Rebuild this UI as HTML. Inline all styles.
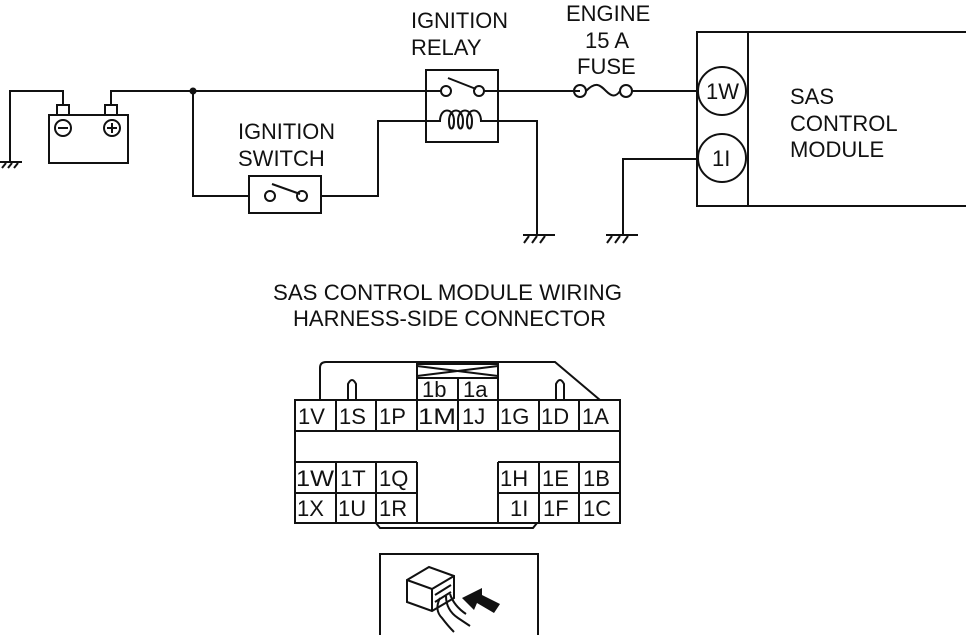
<!DOCTYPE html>
<html><head><meta charset="utf-8"><style>
html,body{margin:0;padding:0;background:#fff;}
svg{display:block;}
text{font-family:"Liberation Sans",Arial,sans-serif;font-size:22px;fill:#111;}
</style></head><body>
<svg width="966" height="635" viewBox="0 0 966 635" xmlns="http://www.w3.org/2000/svg">
<g stroke="#111" stroke-width="2" fill="none">
<!-- battery -->
<rect x="49" y="115" width="79" height="48" fill="#fff"/>
<rect x="57" y="105" width="12" height="10"/>
<rect x="105" y="105" width="12" height="10"/>
<circle cx="63" cy="128" r="8"/><line x1="58" y1="128" x2="68" y2="128"/>
<circle cx="112" cy="128" r="8"/><line x1="107" y1="128" x2="117" y2="128"/><line x1="112" y1="123" x2="112" y2="133"/>
<polyline points="63,105 63,91 10,91 10,162"/>
<line x1="0" y1="162" x2="22" y2="162"/>
<line x1="2" y1="168" x2="6" y2="163"/><line x1="8" y1="168" x2="12" y2="163"/><line x1="14" y1="168" x2="18" y2="163"/>
<polyline points="111,105 111,91 426,91"/>
<!-- ignition switch branch -->
<polyline points="193,91 193,196 249,196"/>
<rect x="249" y="176" width="72" height="37"/>
<circle cx="270" cy="196" r="5"/><circle cx="302" cy="196" r="5"/>
<line x1="272" y1="184" x2="300" y2="194"/>
<polyline points="321,196 378,196 378,121 426,121"/>
<!-- relay -->
<rect x="426" y="70" width="72" height="72"/>
<line x1="426" y1="91" x2="441" y2="91"/>
<circle cx="446" cy="91" r="5"/><circle cx="479" cy="91" r="5"/>
<line x1="448" y1="78" x2="476" y2="89"/>
<line x1="484" y1="91" x2="580" y2="91"/>
<path d="M426,121 h14 c0,-14 14,-14 14,0 c0,10 -5,10 -5,0 c0,-14 14,-14 14,0 c0,10 -5,10 -5,0 c0,-14 14,-14 14,0 c0,10 -5,10 -5,0 c0,-14 14,-14 14,0 H537 V235"/>
<line x1="523" y1="235" x2="555" y2="235"/>
<line x1="524" y1="243" x2="529" y2="236"/><line x1="532" y1="243" x2="537" y2="236"/><line x1="540" y1="243" x2="545" y2="236"/>
<!-- fuse -->
<circle cx="580" cy="91" r="6"/><circle cx="626" cy="91" r="6"/>
<path d="M586,91 c10,-10 14,-6 20,0 c6,6 10,6 14,0"/>
<line x1="632" y1="91" x2="697" y2="91"/>
<!-- module -->
<rect x="697" y="32" width="280" height="174"/>
<line x1="748" y1="32" x2="748" y2="206"/>
<circle cx="722" cy="91" r="24" fill="#fff"/>
<circle cx="722" cy="158" r="24" fill="#fff"/>
<polyline points="698,159 623,159 623,235"/>
<line x1="606" y1="235" x2="638" y2="235"/>
<line x1="607" y1="243" x2="612" y2="236"/><line x1="615" y1="243" x2="620" y2="236"/><line x1="623" y1="243" x2="628" y2="236"/>
</g>
<circle cx="193" cy="91" r="3.5" fill="#111"/>
<text x="411" y="28" textLength="97" lengthAdjust="spacingAndGlyphs">IGNITION</text>
<text x="411" y="55">RELAY</text>
<text x="566" y="21">ENGINE</text>
<text x="585" y="48">15 A</text>
<text x="577" y="74">FUSE</text>
<text x="238" y="139" textLength="97" lengthAdjust="spacingAndGlyphs">IGNITION</text>
<text x="238" y="166">SWITCH</text>
<text x="790" y="104">SAS</text>
<text x="790" y="131">CONTROL</text>
<text x="790" y="157">MODULE</text>
<text x="706" y="99" font-size="21">1W</text>
<text x="712" y="166" font-size="21">1I</text>
<text x="273" y="300" textLength="349" lengthAdjust="spacingAndGlyphs">SAS CONTROL MODULE WIRING</text>
<text x="293" y="326" textLength="313" lengthAdjust="spacingAndGlyphs">HARNESS-SIDE CONNECTOR</text>
<!-- connector -->
<g stroke="#111" stroke-width="2" fill="none">
<path d="M320,400 V368 q0,-6 6,-6 H555 L600,400"/>
<path d="M348,400 V384 q4,-8 8,0 V400"/>
<path d="M556,400 V384 q4,-8 8,0 V400"/>
<rect x="417" y="364" width="81" height="36" fill="#fff"/>
<line x1="417" y1="378" x2="498" y2="378"/>
<line x1="417" y1="366" x2="498" y2="376"/><line x1="417" y1="376" x2="498" y2="366"/>
<line x1="458" y1="378" x2="458" y2="400"/>
<rect x="295" y="400" width="325" height="123"/>
<line x1="295" y1="431" x2="620" y2="431"/>
<line x1="295" y1="462" x2="417" y2="462"/><line x1="498" y1="462" x2="620" y2="462"/>
<line x1="295" y1="493" x2="417" y2="493"/><line x1="498" y1="493" x2="620" y2="493"/>
<line x1="417" y1="462" x2="417" y2="523"/><line x1="498" y1="462" x2="498" y2="523"/>
<line x1="336" y1="400" x2="336" y2="431"/><line x1="376" y1="400" x2="376" y2="431"/><line x1="417" y1="400" x2="417" y2="431"/><line x1="458" y1="400" x2="458" y2="431"/><line x1="498" y1="400" x2="498" y2="431"/><line x1="539" y1="400" x2="539" y2="431"/><line x1="579" y1="400" x2="579" y2="431"/>
<line x1="336" y1="462" x2="336" y2="523"/><line x1="376" y1="462" x2="376" y2="523"/><line x1="539" y1="462" x2="539" y2="523"/><line x1="579" y1="462" x2="579" y2="523"/>
<path d="M376,523 l4,5 H533 l4,-5"/>
<!-- bottom picture -->
<rect x="380" y="554" width="158" height="85"/>
<path d="M407,580 l22,-13 l25,9 v22 l-22,13 l-25,-9 z M407,580 l25,9 l22,-13 M432,589 v22"/>
<path d="M435,595 l16,-10 M435,602 l16,-10"/>
<path d="M440,598 q-6,12 2,20 q6,8 12,14 M446,596 q0,14 12,22 l12,8 M450,594 q4,12 16,20"/>
</g>
<polygon points="462,598 482,588 482,595 500,604 494,613 477,603 474,610" fill="#111"/>
<g font-size="22">
<text x="298" y="424">1V</text><text x="339" y="424">1S</text><text x="379" y="424">1P</text><text x="418" y="424" textLength="38" lengthAdjust="spacingAndGlyphs">1M</text><text x="462" y="424">1J</text><text x="500" y="424">1G</text><text x="541" y="424">1D</text><text x="582" y="424">1A</text>
<text x="296" y="486" textLength="38" lengthAdjust="spacingAndGlyphs">1W</text><text x="340" y="486">1T</text><text x="379" y="486">1Q</text><text x="500" y="486">1H</text><text x="542" y="486">1E</text><text x="583" y="486">1B</text>
<text x="297" y="516">1X</text><text x="338" y="516">1U</text><text x="379" y="516">1R</text><text x="510" y="516">1I</text><text x="543" y="516">1F</text><text x="583" y="516">1C</text>
<text x="422" y="397" font-size="20">1b</text><text x="463" y="397" font-size="20">1a</text>
</g>
</svg>
</body></html>
